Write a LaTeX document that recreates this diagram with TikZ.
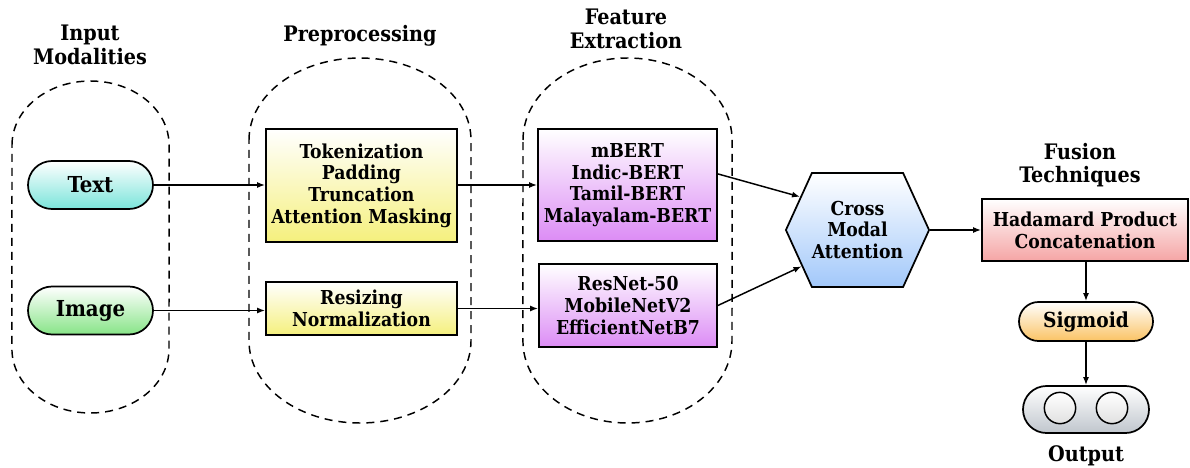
\documentclass[tikz,border=0pt]{standalone}
\usepackage{fontspec}
\setmainfont{DejaVu Serif Condensed}
\usetikzlibrary{arrows.meta,shapes.symbols,calc}
\definecolor{textc}{RGB}{122,228,218}
\definecolor{imagec}{RGB}{135,228,135}
\definecolor{yellowc}{RGB}{245,240,125}
\definecolor{purplec}{RGB}{220,140,245}
\definecolor{bluec}{RGB}{162,200,250}
\definecolor{redc}{RGB}{245,165,165}
\definecolor{orangec}{RGB}{250,195,100}
\definecolor{grayc}{RGB}{192,198,205}
\tikzset{
  boxtxt/.style={font=\bfseries\fontsize{14.4}{16.3}\selectfont, align=center, inner sep=0pt},
  procbox/.style={boxtxt, draw=black, line width=1.3pt, rectangle},
  pill/.style={draw=black, line width=1.3pt, inner sep=0pt, align=center},
  title/.style={font=\bfseries\fontsize{16}{17.5}\selectfont, align=center, inner sep=0pt},
  group/.style={draw=black, line width=1.1pt, dash pattern=on 6pt off 4.5pt},
  conn/.style={draw=black, line width=1.1pt, -{Latex[length=6pt,width=4.5pt]}},
}
\begin{document}
\begin{tikzpicture}[x=0.75pt,y=-0.75pt]
\useasboundingbox (0,0) rectangle (1190,468);
% groups
\draw[group] (12,145) arc[start angle=180,end angle=0,x radius=58.9pt,y radius=48pt] -- (169,349) arc[start angle=0,end angle=-180,x radius=58.9pt,y radius=48pt] -- cycle;
\draw[group] (249,140) arc[start angle=180,end angle=0,x radius=83.25pt,y radius=61.5pt] -- (471,341) arc[start angle=0,end angle=-180,x radius=83.25pt,y radius=61.5pt] -- cycle;
\draw[group] (523,140) arc[start angle=180,end angle=0,x radius=78.4pt,y radius=61.5pt] -- (732,341) arc[start angle=0,end angle=-180,x radius=78.4pt,y radius=61.5pt] -- cycle;
% titles
\node[title] (t1) at (90,45) {Input\\Modalities};
\node[title] (t2) at (360,36) {Preprocessing};
\node[title] (t3) at (626,29) {Feature\\Extraction};
\node[title] (t4) at (1080,165) {Fusion\\Techniques};
\node[title] (t5) at (1086,456) {Output};
% inputs
\node[pill, rounded corners=18pt, minimum width=93.75pt, minimum height=36pt, top color=white, bottom color=textc, font=\bfseries\fontsize{16.5}{18}\selectfont] (text) at (90.5,185) {Text};
\node[pill, rounded corners=18pt, minimum width=93.75pt, minimum height=36pt, top color=white, bottom color=imagec, font=\bfseries\fontsize{16.5}{18}\selectfont] (image) at (90.5,310.5) {Image};
% preprocessing
\node[procbox, minimum width=143.25pt, minimum height=84.75pt, top color=white, bottom color=yellowc] (tok) at (361.5,185.5) {Tokenization\\Padding\\Truncation\\Attention Masking};
\node[procbox, minimum width=143.25pt, minimum height=39.75pt, top color=white, bottom color=yellowc] (res) at (361.5,308.5) {Resizing\\Normalization};
% feature extraction
\node[procbox, minimum width=134.25pt, minimum height=84pt, top color=white, bottom color=purplec] (mbert) at (627.5,185) {mBERT\\Indic-BERT\\Tamil-BERT\\Malayalam-BERT};
\node[procbox, minimum width=133.5pt, minimum height=62.25pt, top color=white, bottom color=purplec] (resnet) at (628,305.5) {ResNet-50\\MobileNetV2\\EfficientNetB7};
% cross modal attention
\node[boxtxt, draw=black, line width=1.3pt, shape=signal, signal to=west and east, signal pointer angle=131, minimum width=102.75pt, minimum height=85.5pt, top color=white, bottom color=bluec] (cma) at (857.5,230) {Cross\\Modal\\Attention};
% fusion
\node[procbox, minimum width=154.5pt, minimum height=46.5pt, top color=white, bottom color=redc] (fusion) at (1085,230) {Hadamard Product\\Concatenation};
\node[pill, rounded corners=14.6pt, minimum width=100.5pt, minimum height=29.25pt, top color=white, bottom color=orangec, font=\bfseries\fontsize{15.5}{17}\selectfont] (sigmoid) at (1086,321.5) {Sigmoid};
\node[pill, rounded corners=17.6pt, minimum width=94.5pt, minimum height=35.25pt, top color=white, bottom color=grayc] (output) at (1086,409.5) {};
\node[draw=black, line width=1.1pt, circle, minimum size=23.5pt, inner sep=0pt, top color=white, bottom color=black!12] (c1) at (1060,408) {};
\node[draw=black, line width=1.1pt, circle, minimum size=23.5pt, inner sep=0pt, top color=white, bottom color=black!12] (c2) at (1112,408) {};
% connectors
\draw[conn] (text.east) -- (tok.west |- text.east);
\draw[conn] (image.east) -- (res.west |- image.east);
\draw[conn] (tok.east |- mbert.west) -- (mbert.west);
\draw[conn] (res.east) -- (resnet.west |- res.east);
\draw[conn] (mbert.7.6) -- (cma.150);
\draw[conn] (resnet.east) -- (cma.213);
\draw[conn] (cma.east) -- (fusion.west);
\draw[conn] (fusion.south -| sigmoid.north) -- (sigmoid.north);
\draw[conn] (sigmoid.south) -- (output.north);
\end{tikzpicture}
\end{document}
